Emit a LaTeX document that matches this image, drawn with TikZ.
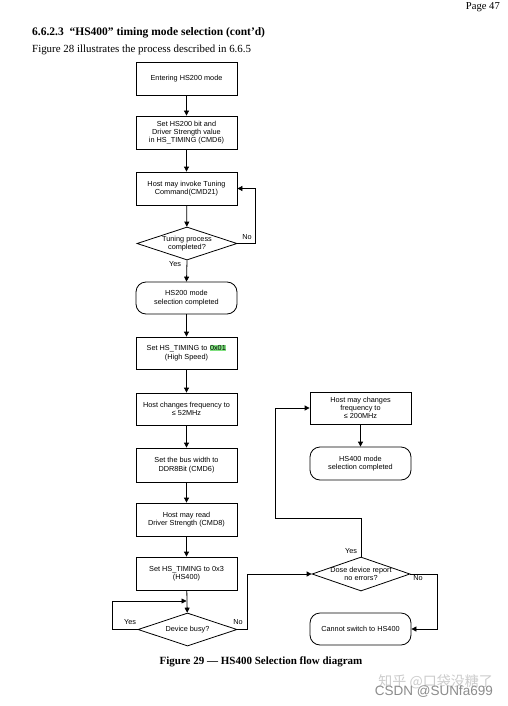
\documentclass[tikz,border=0pt]{standalone}
\usepackage{fontspec}
\setmainfont{Liberation Serif}
\setsansfont{Liberation Sans}
\newfontfamily\cjkfont{Noto Sans CJK SC}
\usetikzlibrary{shapes.geometric,arrows.meta}
\definecolor{hl}{HTML}{7FE07F}
\tikzset{
  dtext/.style={font=\sffamily\fontsize{7.3}{8.3}\selectfont},
  box/.style={draw, line width=0.8pt, minimum width=101pt, minimum height=33pt, inner sep=1pt, align=center, dtext},
  rbox/.style={box, rounded corners=10pt},
  dia/.style={draw, diamond, line width=0.8pt, minimum width=100pt, minimum height=33pt, inner sep=0pt},
  dlab/.style={label={[align=center, dtext, inner sep=0pt]center:#1}},
  arr/.style={line width=0.8pt, -{Triangle[length=5pt,width=5pt]}},
  lbl/.style={font=\sffamily\fontsize{7.3}{8}\selectfont, inner sep=0pt},
}
\begin{document}
\begin{tikzpicture}[x=1pt,y=-1pt]
\fill[white] (0,0) rectangle (507,706);
\useasboundingbox (0,0) rectangle (507,706);
% header
\node[anchor=east, font=\fontsize{10.6}{12}\selectfont, inner sep=0pt] (pg) at (500,7) {Page 47};
\node[anchor=west, font=\bfseries\fontsize{11.5}{12}\selectfont, inner sep=0pt] (hd) at (32,33) {6.6.2.3\ \ “HS400” timing mode selection (cont’d)};
\node[anchor=west, font=\fontsize{10.9}{12}\selectfont, inner sep=0pt] (fg) at (32,50) {Figure 28 illustrates the process described in 6.6.5};
% left column
\node[box] (b1) at (186.5,78.5) {Entering HS200 mode};
\node[box] (b2) at (186.5,132.5) {Set HS200 bit and\\Driver Strength value\\in HS\_TIMING (CMD6)};
\node[box] (b3) at (186.5,188.5) {Host may invoke Tuning\\Command(CMD21)};
\node[dia, dlab={Tuning process\\completed?}] (d1) at (187,243.5) {};
\node[rbox, minimum height=32pt] (r1) at (186.5,298) {HS200 mode\\selection completed};
\node[box, minimum height=32pt] (b4) at (186.5,353) {Set HS\_TIMING to {\setlength{\fboxsep}{0.5pt}\colorbox{hl}{0x01}}\\(High Speed)};
\node[box, minimum height=32pt] (b5) at (186.5,409) {Host changes frequency to\\≤ 52MHz};
\node[box, minimum height=34pt] (b6) at (186.5,465) {Set the bus width to\\DDR8Bit (CMD6)};
\node[box, minimum height=33pt] (b7) at (186.5,519.5) {Host may read\\Driver Strength (CMD8)};
\node[box, minimum height=33pt] (b8) at (186.5,573.5) {Set HS\_TIMING to 0x3\\(HS400)};
\node[dia, minimum width=99pt, dlab={Device busy?}] (d2) at (187.5,629.5) {};
% right column
\node[box, minimum height=32pt] (b9) at (360.5,408) {Host may changes\\frequency to\\≤ 200MHz};
\node[rbox, minimum height=33pt] (r2) at (360.5,463.5) {HS400 mode\\selection completed};
\node[dia, minimum width=98pt, minimum height=34pt, dlab={Dose device report\\no errors?}] (d3) at (361,574) {};
\node[rbox, minimum height=32pt] (r3) at (360.5,629) {Cannot switch to HS400};
% connectors
\draw[arr] (b1) -- (b2);
\draw[arr] (b2) -- (b3);
\draw[arr] (b3) -- (d1);
\draw[arr] (d1.east) -- ++(18,0) |- (b3.east);
\draw[arr] (d1.south) -- (r1.north);
\draw[arr] (r1) -- (b4);
\draw[arr] (b4) -- (b5);
\draw[arr] (b5) -- (b6);
\draw[arr] (b6) -- (b7);
\draw[arr] (b7) -- (b8);
\draw[arr] (b8) -- (d2);
\coordinate (j) at (186.5,601);
\draw[arr] (d2.west) -- ++(-25,0) |- (j);
\draw[arr] (d2.east) -- ++(10,0) |- (d3.west);
\coordinate (c1) at (275,518);
\draw[arr] (d3.north) -- (d3.north |- c1) -- (c1) |- (b9.west);
\draw[arr] (b9) -- (r2);
\draw[arr] (d3.east) -- ++(27,0) |- (r3.east);
% labels
\node[lbl] (n1) at (247,237) {No};
\node[lbl] (y1) at (175,264) {Yes};
\node[lbl] (y2) at (130,622) {Yes};
\node[lbl] (n2) at (238,622) {No};
\node[lbl] (y3) at (351,551) {Yes};
\node[lbl] (n3) at (418,578) {No};
% caption
\node[font=\bfseries\fontsize{11}{12}\selectfont, inner sep=0pt] (cap) at (261,662) {Figure 29 — HS400 Selection flow diagram};
% watermarks
\node[anchor=east, text=black!20, font=\cjkfont\fontsize{14}{15}\selectfont, inner sep=0pt] (wm1) at (493,682) {知乎 @口袋没糖了};
\node[anchor=east, text=black!45, font=\sffamily\fontsize{13.5}{14}\selectfont, inner sep=0pt] (wm2) at (493,692) {CSDN @SUNfa699};
\end{tikzpicture}
\end{document}
